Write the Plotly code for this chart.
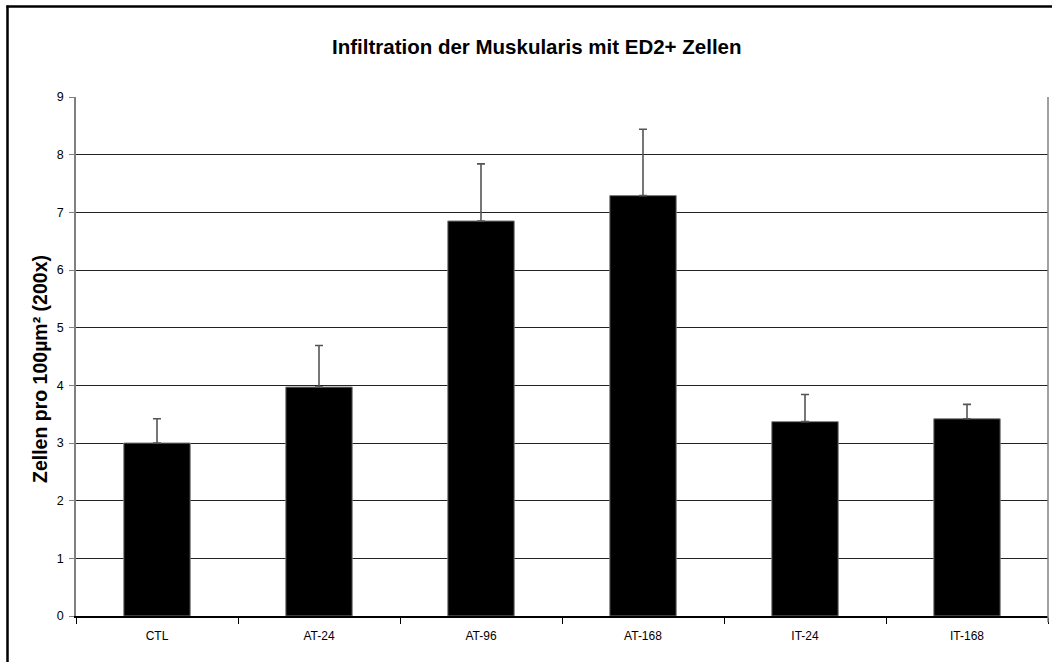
import plotly.graph_objects as go

categories = ["CTL", "AT-24", "AT-96", "AT-168", "IT-24", "IT-168"]
values = [3.0, 3.97, 6.85, 7.29, 3.37, 3.42]
errors_plus = [0.42, 0.72, 0.99, 1.15, 0.47, 0.25]
y_ticks = [0, 1, 2, 3, 4, 5, 6, 7, 8, 9]

title_text = "Infiltration der Muskularis mit ED2+ Zellen"
y_title = "Zellen pro 100µm² (200x)"

W, H = 1052, 662
L, R, T, B = 76, 4, 97, 46
pw, ph = W - L - R, H - T - B

def px_x(p):
    return (p - L) / pw

def px_y(p):
    return (H - B - p) / ph

FONT = "Liberation Sans, Arial, sans-serif"

fig = go.Figure()
fig.add_trace(go.Bar(
    x=categories,
    y=values,
    width=0.41,
    marker=dict(color="#000000", line=dict(color="#7f7f7f", width=1)),
    error_y=dict(type="data", symmetric=False, array=errors_plus,
                 arrayminus=[0] * len(values), color="#555555",
                 thickness=1.6, width=4),
))

fig.update_layout(
    width=W, height=H,
    margin=dict(l=L, r=R, t=T, b=B, pad=0),
    paper_bgcolor="white", plot_bgcolor="white",
    showlegend=False,
    font=dict(family=FONT, size=12, color="#000000"),
    bargap=0.59,
)

fig.update_xaxes(
    type="category", range=[-0.5, 5.5],
    showline=True, linecolor="#000000", linewidth=1.5,
    ticks="outside", tickson="boundaries", ticklen=6, tickcolor="#000000",
    tickwidth=1, showgrid=False, tickfont=dict(size=12, family=FONT),
    ticklabelstandoff=8,
)
fig.update_yaxes(
    range=[0, 9], tickvals=y_ticks,
    showline=True, linecolor="#808080", linewidth=1.5, mirror=False,
    ticks="outside", ticklen=5, tickcolor="#808080", tickwidth=1,
    showgrid=True, gridcolor="#222222", gridwidth=1,
    zeroline=False, tickfont=dict(size=12.5, family=FONT),
    ticklabelstandoff=3,
)

# right edge of the plot frame (grey, plot height only)
fig.add_shape(
    type="line", xref="paper", yref="paper",
    x0=1, x1=1, y0=-0.012, y1=1,
    line=dict(color="#808080", width=1.5), layer="above",
)

fig.add_annotation(
    text=f"<b>{title_text}</b>", xref="paper", yref="paper",
    x=px_x(537), y=px_y(46), xanchor="center", yanchor="middle",
    showarrow=False, font=dict(size=20.5, family=FONT, color="#000000"),
)
fig.add_annotation(
    text=f"<b>{y_title}</b>", xref="paper", yref="paper",
    x=px_x(40), y=px_y(369), xanchor="center", yanchor="middle",
    textangle=-90, showarrow=False,
    font=dict(size=19.5, family=FONT, color="#000000"),
)

# outer chart border (only top and left edges are visible in the reference)
fig.add_shape(
    type="line", xref="paper", yref="paper",
    x0=px_x(6.5), x1=px_x(W + 20), y0=px_y(6.5), y1=px_y(6.5),
    line=dict(color="#000000", width=2.5), layer="above",
)
fig.add_shape(
    type="line", xref="paper", yref="paper",
    x0=px_x(7.5), x1=px_x(7.5), y0=px_y(5.5), y1=px_y(H + 20),
    line=dict(color="#000000", width=2.5), layer="above",
)

fig.write_html(
    "out.html", config={"displayModeBar": False},
    post_script=(
        "document.body.style.margin='0px';"
        "document.body.style.overflow='hidden';"
        "document.documentElement.style.overflow='hidden';"
    ),
)
